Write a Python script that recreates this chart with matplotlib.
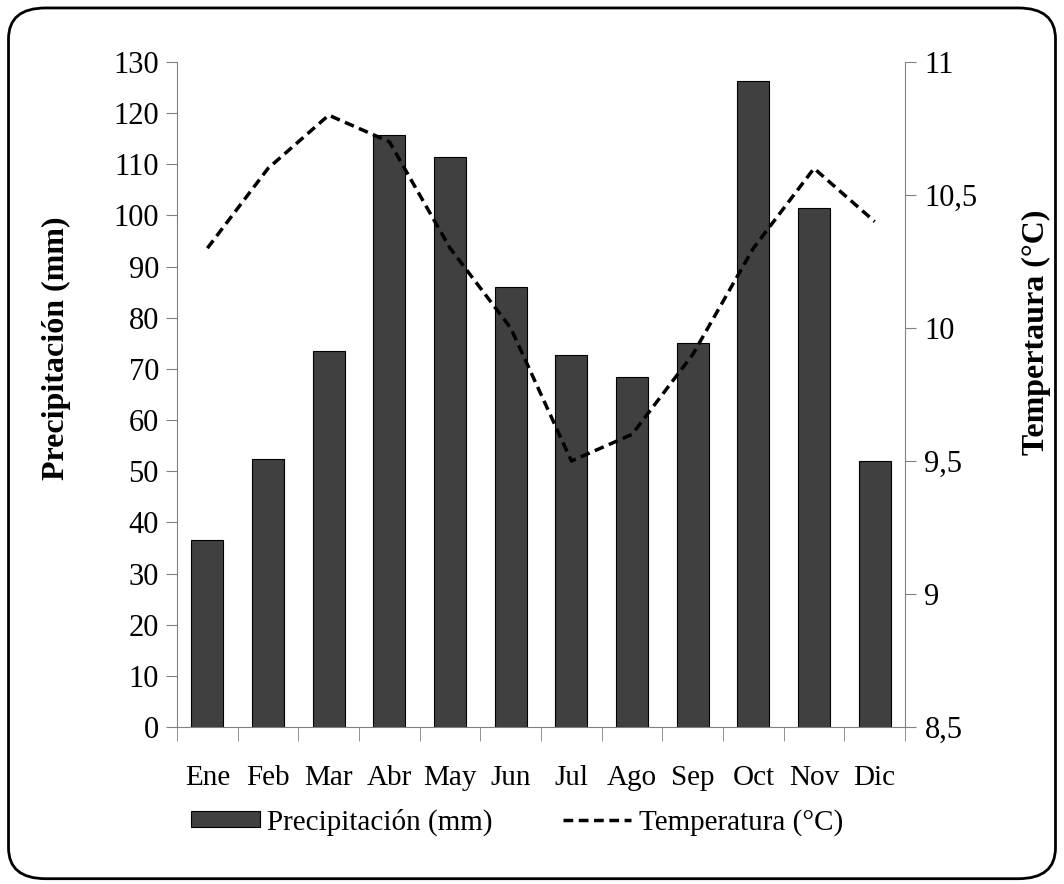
import matplotlib.pyplot as plt
from matplotlib.patches import FancyBboxPatch, Patch
from matplotlib.lines import Line2D

months = ['Ene', 'Feb', 'Mar', 'Abr', 'May', 'Jun', 'Jul', 'Ago', 'Sep', 'Oct', 'Nov', 'Dic']
precip = [36.5, 52.3, 73.5, 115.8, 111.5, 86.0, 72.7, 68.4, 75.0, 126.3, 101.5, 52.0]
temp = [10.3, 10.6, 10.8, 10.7, 10.3, 10.0, 9.5, 9.6, 9.9, 10.3, 10.6, 10.4]

plt.rcParams['font.family'] = ['Liberation Serif', 'DejaVu Serif']

fig = plt.figure(figsize=(10.64, 8.84), dpi=100)
ax = fig.add_axes([0.1664, 0.1776, 0.6842, 0.7523])

dash = (0, (2.8, 1.6))

x = list(range(len(months)))
ax.bar(x, precip, width=0.53, color='#404040', edgecolor='black', linewidth=0.8)
ax.set_xlim(-0.5, 11.5)
ax.set_ylim(0, 130)
ax.set_yticks(range(0, 131, 10))
ax.set_xticks(x)
ax.set_xticklabels(months)
ax.set_xticks([i - 0.5 for i in range(13)], minor=True)
ax.tick_params(axis='x', which='major', length=0, pad=27, labelsize=21)
ax.tick_params(axis='x', which='minor', length=10, color='#808080')
ax.tick_params(axis='y', length=8, color='#808080', labelsize=22, pad=5)
ax.set_ylabel('Precipitación (mm)', fontsize=23, fontweight='bold')
ax.yaxis.label.set_va('center')
ax.yaxis.set_label_coords(-0.165, 0.57)
for s in ['top', 'right']:
    ax.spines[s].set_visible(False)
ax.spines['left'].set_color('#808080')
ax.spines['bottom'].set_color('#808080')

ax2 = ax.twinx()
ax2.plot(x, temp, color='black', linestyle=dash, linewidth=2.5)
ax2.set_ylim(8.5, 11)
ax2.set_yticks([8.5, 9, 9.5, 10, 10.5, 11])
ax2.set_yticklabels(['8,5', '9', '9,5', '10', '10,5', '11'])
ax2.tick_params(axis='y', length=8, color='#808080', labelsize=22, pad=6)
ax2.set_ylabel('Tempertaura (°C)', fontsize=23, fontweight='bold')
ax2.yaxis.label.set_va('center')
ax2.yaxis.set_label_coords(1.18, 0.594)
for s in ['top', 'left', 'bottom']:
    ax2.spines[s].set_visible(False)
ax2.spines['right'].set_color('#808080')

handles = [Patch(facecolor='#404040', edgecolor='black', linewidth=0.8),
           Line2D([0], [0], color='black', linestyle=dash, linewidth=2.5)]
fig.legend(handles, ['Precipitación (mm)', 'Temperatura (°C)'], loc='center',
           bbox_to_anchor=(0.486, 0.07), ncol=2, frameon=False, fontsize=21,
           handlelength=2.35, handleheight=0.45, handletextpad=0.25, columnspacing=2.4)

border = FancyBboxPatch((0.008, 0.006), 0.984, 0.985, boxstyle='round,pad=0,rounding_size=0.035',
                        transform=fig.transFigure, fill=False, edgecolor='black', linewidth=2)
fig.patches.append(border)

fig.savefig('out.png', dpi=100)
